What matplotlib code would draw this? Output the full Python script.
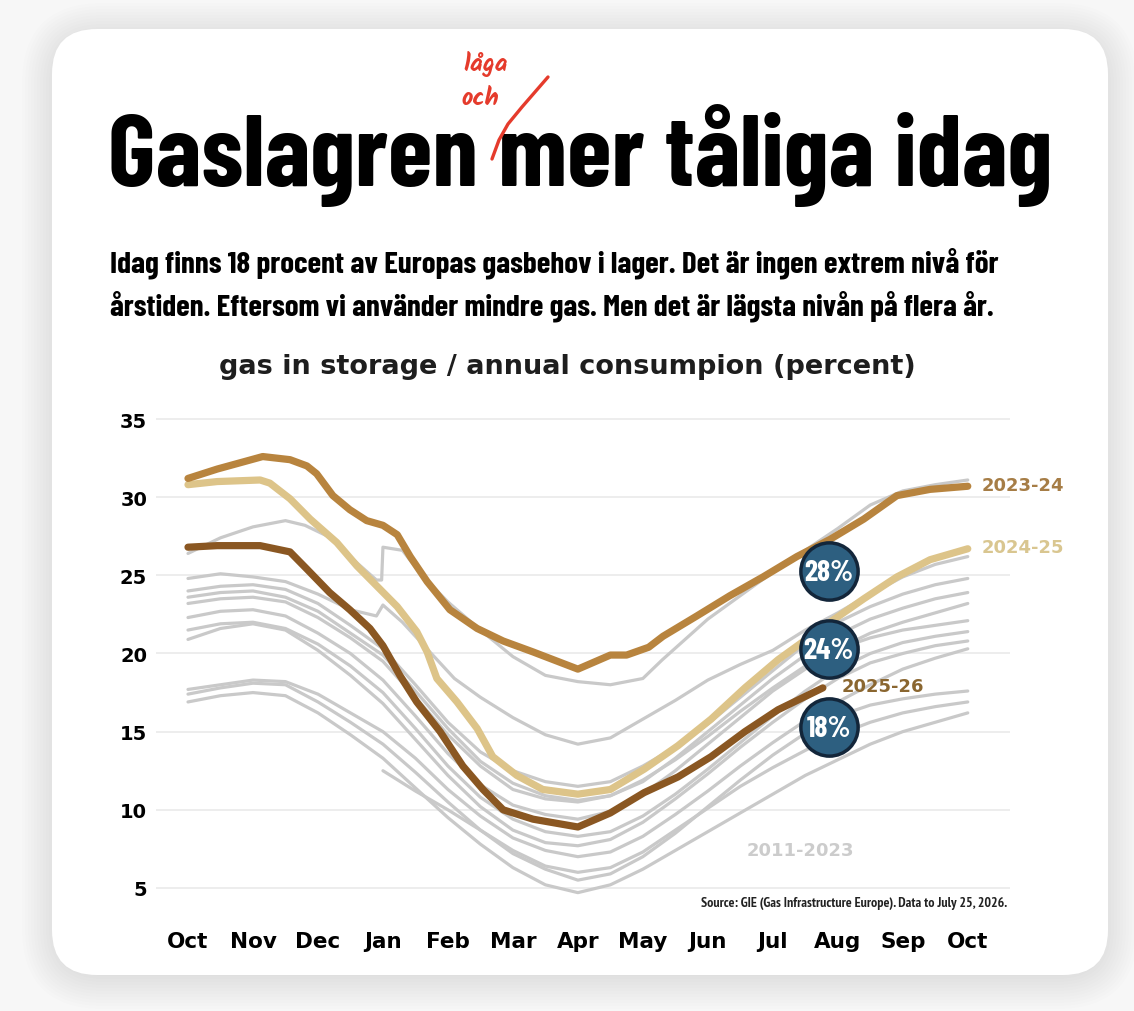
import matplotlib
matplotlib.use('Agg')
import matplotlib.pyplot as plt
from matplotlib.patches import FancyBboxPatch

# month positions: 0 = Oct, 12 = Oct next year
months = ['Oct', 'Nov', 'Dec', 'Jan', 'Feb', 'Mar', 'Apr', 'May', 'Jun', 'Jul', 'Aug', 'Sep', 'Oct']

# 2023-24
m_2324 = [0, 0.45, 1.15, 1.57, 1.83, 1.98, 2.23, 2.49, 2.75, 3.0, 3.22, 3.42, 3.68, 4.03, 4.45,
          4.85, 5.31, 6.0, 6.5, 6.75, 7.09, 7.31, 7.83, 8.34, 8.85, 9.37, 9.88, 10.4, 10.91, 11.42, 12]
v_2324 = [31.2, 31.8, 32.6, 32.4, 32.0, 31.5, 30.1, 29.2, 28.5, 28.2, 27.6, 26.2, 24.6, 22.8, 21.6,
          20.8, 20.1, 19.0, 19.9, 19.9, 20.4, 21.1, 22.4, 23.7, 24.9, 26.2, 27.3, 28.6, 30.1, 30.5, 30.7]

# 2024-25
m_2425 = [0, 0.45, 1.11, 1.26, 1.57, 1.88, 2.29, 2.6, 2.91, 3.22, 3.52, 3.68, 3.83, 4.14, 4.45,
          4.69, 5.06, 5.46, 6.0, 6.5, 7.02, 7.54, 8.05, 8.57, 9.08, 9.88, 10.4, 10.91, 11.42, 12]
v_2425 = [30.8, 31.0, 31.1, 30.9, 29.9, 28.6, 27.1, 25.6, 24.3, 23.0, 21.4, 20.1, 18.4, 16.9, 15.2,
          13.4, 12.2, 11.3, 11.0, 11.3, 12.6, 14.1, 15.8, 17.8, 19.6, 22.0, 23.5, 24.9, 26.0, 26.7]

# 2025-26 (data to late July)
m_2526 = [0, 0.45, 1.11, 1.57, 1.83, 2.18, 2.49, 2.8, 3.0, 3.26, 3.52, 3.88, 4.23, 4.54, 4.85,
          5.31, 6.0, 6.5, 7.02, 7.54, 8.05, 8.57, 9.08, 9.77]
v_2526 = [26.8, 26.9, 26.9, 26.5, 25.4, 23.9, 22.8, 21.6, 20.5, 18.6, 16.9, 15.0, 12.8, 11.3, 10.0,
          9.4, 8.9, 9.8, 11.1, 12.1, 13.4, 15.0, 16.4, 17.8]

# 2011-2023 seasons (grey)
m_grey = [0, 0.5, 1.0, 1.5, 2.0, 2.5, 3.0, 3.5, 4.0, 4.5, 5.0, 5.5, 6.0, 6.5, 7.0, 7.5, 8.0, 8.5,
          9.0, 9.5, 10.0, 10.5, 11.0, 11.5, 12.0]
m_jump = [0, 0.5, 1.0, 1.5, 1.8, 2.2, 2.6, 2.9, 2.98, 3.0, 3.3, 3.6, 4.0, 4.5, 5.0, 5.5, 6.0, 6.5,
          7.0, 7.3, 8.0, 8.5, 9.0, 9.5, 10.0, 10.5, 11.0, 11.5, 12.0]
v_jump = [26.4, 27.4, 28.1, 28.5, 28.2, 27.4, 25.8, 24.7, 24.7, 26.8, 26.6, 25.0, 23.3, 21.5, 19.8,
          18.6, 18.2, 18.0, 18.4, 19.6, 22.2, 23.7, 25.2, 26.6, 28.0, 29.5, 30.4, 30.8, 31.1]
m_g2 = [0, 0.5, 1.0, 1.5, 2.0, 2.5, 2.9, 3.0, 3.3, 3.7, 4.1, 4.5, 5.0, 5.5, 6.0, 6.5, 7.0, 7.5, 8.0,
        8.5, 9.0, 9.5, 10.0, 10.5, 11.0, 11.5, 12.0]
v_g2 = [24.8, 25.1, 24.9, 24.6, 23.8, 22.8, 22.4, 23.1, 22.0, 20.2, 18.4, 17.2, 15.9, 14.8, 14.2,
        14.6, 15.8, 17.0, 18.3, 19.3, 20.2, 21.5, 22.6, 23.8, 24.9, 25.7, 26.2]
v_g3 = [24.0, 24.3, 24.4, 24.1, 23.2, 21.8, 20.3, 18.0, 15.6, 13.7, 12.5, 11.8, 11.5, 11.8, 12.8,
        14.0, 15.5, 17.2, 18.9, 20.6, 22.0, 23.0, 23.8, 24.4, 24.8]
v_g4 = [23.6, 23.9, 24.0, 23.6, 22.7, 21.3, 19.9, 17.6, 15.2, 13.1, 11.7, 10.9, 10.6, 10.9, 11.9,
        13.2, 14.7, 16.3, 17.8, 19.2, 20.3, 21.0, 21.5, 21.8, 22.1]
v_g5 = [23.2, 23.5, 23.6, 23.3, 22.3, 21.0, 19.5, 17.2, 14.8, 12.8, 11.3, 10.7, 10.5, 10.9, 11.8,
        13.3, 15.0, 16.7, 18.4, 19.9, 21.2, 22.2, 22.9, 23.5, 23.9]
v_g6 = [22.3, 22.7, 22.8, 22.4, 21.3, 20.0, 18.3, 16.0, 13.6, 11.6, 10.3, 9.7, 9.4, 9.9, 11.0,
        12.5, 14.2, 15.9, 17.6, 19.0, 20.3, 21.3, 22.0, 22.6, 23.2]
v_g7 = [21.5, 21.9, 22.0, 21.6, 20.6, 19.2, 17.5, 15.2, 12.8, 10.8, 9.4, 8.6, 8.3, 8.6, 9.6,
        11.0, 12.6, 14.3, 16.0, 17.6, 19.0, 20.0, 20.7, 21.1, 21.4]
v_g8 = [20.9, 21.6, 21.9, 21.5, 20.2, 18.6, 16.8, 14.5, 12.2, 10.2, 8.7, 7.9, 7.7, 8.1, 9.2,
        10.7, 12.3, 14.0, 15.6, 17.1, 18.4, 19.4, 20.0, 20.5, 20.8]
v_g9 = [17.7, 18.0, 18.3, 18.2, 17.4, 16.2, 15.0, 13.3, 11.3, 9.6, 8.2, 7.4, 7.0, 7.3, 8.3,
        9.7, 11.2, 12.8, 14.3, 15.7, 16.9, 18.0, 19.0, 19.7, 20.3]
v_g10 = [17.4, 17.8, 18.1, 18.0, 16.9, 15.6, 14.2, 12.4, 10.5, 8.7, 7.2, 6.2, 5.5, 5.9, 7.0,
         8.5, 10.2, 11.9, 13.5, 14.9, 16.0, 16.7, 17.1, 17.4, 17.6]
v_g11 = [16.9, 17.3, 17.5, 17.3, 16.2, 14.8, 13.3, 11.4, 9.5, 7.8, 6.3, 5.2, 4.7, 5.2, 6.2,
         7.4, 8.6, 9.8, 11.0, 12.2, 13.2, 14.2, 15.0, 15.6, 16.2]
# season starting in Jan 2011
m_g12 = [3.0, 3.5, 4.0, 4.5, 5.0, 5.5, 6.0, 6.5, 7.0, 7.5, 8.0, 8.5, 9.0, 9.5, 10.0, 10.5, 11.0, 11.5, 12.0]
v_g12 = [12.5, 11.2, 10.0, 8.7, 7.4, 6.4, 6.0, 6.3, 7.3, 8.7, 10.1, 11.5, 12.7, 13.8, 14.8, 15.6,
         16.2, 16.6, 16.9]

grey_lines = [(m_jump, v_jump), (m_g2, v_g2), (m_grey, v_g3), (m_grey, v_g4), (m_grey, v_g5),
              (m_grey, v_g6), (m_grey, v_g7), (m_grey, v_g8), (m_grey, v_g9), (m_grey, v_g10),
              (m_grey, v_g11), (m_g12, v_g12)]

# callouts
badge_x = 9.86
badge_y = [25.3, 20.3, 15.3]
badge_txt = ['28%', '24%', '18%']

title = 'Gaslagren mer tåliga idag'
sub1 = 'Idag finns 18 procent av Europas gasbehov i lager. Det är ingen extrem nivå för'
sub2 = 'årstiden. Eftersom vi använder mindre gas. Men det är lägsta nivån på flera år.'
source = 'Source: GIE (Gas Infrastructure Europe). Data to July 25, 2026.'

W, H = 1134, 1012
fig = plt.figure(figsize=(W / 100, H / 100), dpi=100)

# background layer in pixel coordinates
bg = fig.add_axes([0, 0, 1, 1])
bg.set_xlim(0, W)
bg.set_ylim(H, 0)
bg.axis('off')
bg.add_patch(plt.Rectangle((0, 0), W, H, color='#f7f7f7', zorder=0))
for i in range(36, 0, -3):
    bg.add_patch(FancyBboxPatch((52 - i + 6, 30 - i + 10), 1056 + 2 * i - 12, 946 + 2 * i - 12,
                                boxstyle='round,pad=0,rounding_size=%d' % (45 + i),
                                fc='black', ec='none', alpha=0.009, zorder=1))
bg.add_patch(FancyBboxPatch((52, 30), 1056, 946, boxstyle='round,pad=0,rounding_size=45',
                            fc='white', ec='none', zorder=2))

cond = dict(family='Barlow Condensed', fontweight='bold')
t_title = bg.text(108, 186, title, fontsize=70, color='black', ha='left', va='baseline',
                  zorder=3, **cond)
t_s1 = bg.text(110, 272, sub1, fontsize=21, va='baseline', zorder=3, **cond)
t_s2 = bg.text(110, 315, sub2, fontsize=21, va='baseline', zorder=3, **cond)

# fit the condensed headline widths to the card like the original
fig.canvas.draw()
r = fig.canvas.get_renderer()
for t, w in [(t_title, 944), (t_s1, 890), (t_s2, 887)]:
    cur = t.get_window_extent(r).width
    t.set_fontsize(t.get_fontsize() * w / cur)

bg.text(486, 64, 'låga', fontsize=18, color='#e53b2c', ha='center', va='center', zorder=3,
        family='Kalam', fontweight='bold')
bg.text(480, 98, 'och', fontsize=18, color='#e53b2c', ha='center', va='center', zorder=3,
        family='Kalam', fontweight='bold')
slash_x = [492, 499, 508, 522, 548]
slash_y = [160, 141, 125, 108, 78]
bg.plot(slash_x, slash_y, color='#e53b2c', lw=2.4, zorder=3, solid_capstyle='round')
bg.text(567, 367, 'gas in storage / annual consumpion (percent)', fontsize=19.5, ha='center',
        va='center', color='#1e1e1e', fontweight='bold', zorder=3)

# chart
ax = fig.add_axes([155.5 / W, 1 - 912.4 / H, 854.5 / W, 508.0 / H])
ax.patch.set_alpha(0)
ax.set_xlim(-0.5, 12.65)
ax.set_ylim(3.5, 36)
for s in ax.spines.values():
    s.set_visible(False)
ax.set_yticks([5, 10, 15, 20, 25, 30, 35])
ax.grid(axis='y', color='#ececec', lw=1.3)
ax.set_axisbelow(True)
ax.tick_params(length=0)
ax.tick_params(axis='y', pad=6, labelsize=14)
ax.tick_params(axis='x', pad=14, labelsize=15.5)
ax.set_xticks(range(13))
ax.set_xticklabels(months)
for lab in ax.get_yticklabels() + ax.get_xticklabels():
    lab.set_fontweight('bold')

for mx, vy in grey_lines:
    ax.plot(mx, vy, color='#c9c9c9', lw=2.3, solid_capstyle='round', zorder=2)
ax.plot(m_2425, v_2425, color='#ddc489', lw=5.2, solid_capstyle='round', zorder=3)
ax.plot(m_2324, v_2324, color='#b8843e', lw=5.2, solid_capstyle='round', zorder=4)
ax.plot(m_2526, v_2526, color='#8a5722', lw=5.2, solid_capstyle='round', zorder=4)

ax.text(12.22, 30.8, '2023-24', color='#a67d46', fontsize=13, fontweight='bold', va='center')
ax.text(12.22, 26.8, '2024-25', color='#d9c690', fontsize=13, fontweight='bold', va='center')
ax.text(10.06, 17.9, '2025-26', color='#8a6630', fontsize=13, fontweight='bold', va='center')
ax.text(9.42, 7.4, '2011-2023', color='#cccccc', fontsize=13, fontweight='bold', va='center',
        ha='center')
ax.text(12.6, 4.1, source, fontsize=10, ha='right', va='center', color='#222222', clip_on=False,
        family='PT Sans Narrow', fontweight='bold')

ax.scatter([badge_x] * 3, badge_y, s=1700, c='#2d5f80', edgecolors='#13263a', linewidths=2.5,
           zorder=6)
for by, bt in zip(badge_y, badge_txt):
    ax.text(badge_x, by - 0.1, bt, color='white', fontsize=21.5, ha='center', va='center', zorder=7,
            **cond)

fig.savefig('out.png', dpi=100)
